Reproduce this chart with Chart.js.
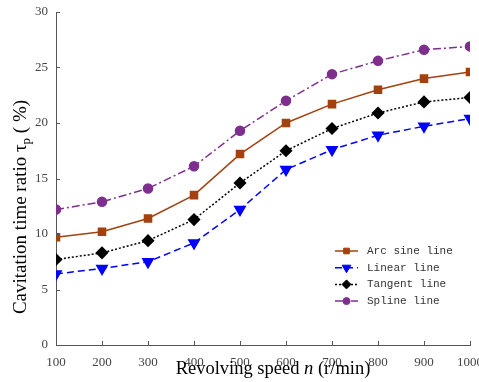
<!DOCTYPE html>
<html lang="en">
<head>
    <script src="https://cdn.jsdelivr.net/npm/chart.js"></script>
    <meta charset="UTF-8">
    <title>Cavitation time ratio</title>
    <style>
        body { margin: 0; background: #fff; }
        #chart { display: block; }
    </style>
</head>
<body>

<canvas id="chart" width="479" height="382"></canvas>
<script>
      // datos
      var speeds = [100, 200, 300, 400, 500, 600, 700, 800, 900, 1000];
      var arcSine = [9.7, 10.2, 11.4, 13.5, 17.2, 20.0, 21.7, 23.0, 24.0, 24.6];
      var linear = [6.4, 6.9, 7.5, 9.2, 12.2, 15.8, 17.6, 18.9, 19.7, 20.4];
      var tangent = [7.7, 8.3, 9.4, 11.3, 14.6, 17.5, 19.5, 20.9, 21.9, 22.3];
      var spline = [12.2, 12.9, 14.1, 16.1, 19.3, 22.0, 24.4, 25.6, 26.6, 26.9];
      var yTicks = [0, 5, 10, 15, 20, 25, 30];

      var seriesNames = ['Arc sine line', 'Linear line', 'Tangent line', 'Spline line'];

      function toPoints(values) {
        return values.map(function(v, i) { return { x: speeds[i], y: v }; });
      }

      var serif = "'Liberation Serif', 'Times New Roman', serif";

      // ticks hacia dentro, títulos y leyenda
      var extras = {
        id: 'extras',
        afterDraw: function(chart) {
          var ctx = chart.ctx;
          var xs = chart.scales.x, ys = chart.scales.y;
          var area = chart.chartArea;
          ctx.save();
          ctx.strokeStyle = '#555';
          ctx.lineWidth = 1;
          ctx.beginPath();
          speeds.forEach(function(s) {
            var px = Math.round(xs.getPixelForValue(s)) + 0.5;
            ctx.moveTo(px, area.bottom);
            ctx.lineTo(px, area.bottom - 4);
          });
          yTicks.forEach(function(t) {
            var py = Math.round(ys.getPixelForValue(t)) + 0.5;
            ctx.moveTo(area.left, py);
            ctx.lineTo(area.left + 4, py);
          });
          ctx.stroke();

          // título eje x
          ctx.fillStyle = '#000';
          ctx.textBaseline = 'alphabetic';
          var f = '18.5px ' + serif, fi = 'italic 18.5px ' + serif;
          ctx.font = f;
          var a = 'Revolving speed ', c = ' (r/min)';
          var wa = ctx.measureText(a).width, wc = ctx.measureText(c).width;
          ctx.font = fi;
          var wb = ctx.measureText('n').width;
          var x0 = 273 - (wa + wb + wc) / 2;
          ctx.font = f; ctx.fillText(a, x0, 374);
          ctx.font = fi; ctx.fillText('n', x0 + wa, 374);
          ctx.font = f; ctx.fillText(c, x0 + wa + wb, 374);

          // título eje y con subíndice
          ctx.save();
          ctx.translate(26, 207);
          ctx.rotate(-Math.PI / 2);
          var fy = '19px ' + serif;
          var t1 = 'Cavitation time ratio \u03c4', t2 = 'p', t3 = ' ( %)';
          ctx.font = fy;
          var w1 = ctx.measureText(t1).width, w3 = ctx.measureText(t3).width;
          ctx.font = '13px ' + serif;
          var w2 = ctx.measureText(t2).width;
          var y0 = -(w1 + w2 + w3) / 2;
          ctx.font = fy; ctx.fillText(t1, y0, 0);
          ctx.font = '13px ' + serif; ctx.fillText(t2, y0 + w1, 4);
          ctx.font = fy; ctx.fillText(t3, y0 + w1 + w2, 0);
          ctx.restore();

          // leyenda
          chart.data.datasets.forEach(function(ds, i) {
            var ly = 251 + i * 16.7;
            ctx.save();
            ctx.strokeStyle = ds.borderColor;
            ctx.fillStyle = ds.backgroundColor;
            ctx.lineWidth = ds.borderWidth;
            ctx.setLineDash(ds.borderDash || []);
            ctx.beginPath();
            ctx.moveTo(335, ly);
            ctx.lineTo(358, ly);
            ctx.stroke();
            ctx.setLineDash([]);
            ctx.lineWidth = 1;
            Chart.helpers.drawPoint(ctx, {
              pointStyle: ds.pointStyle,
              radius: ds.pointRadius - 1,
              rotation: ds.pointRotation || 0,
              borderWidth: 1
            }, 346.5, ly);
            ctx.restore();
            ctx.fillStyle = '#333';
            ctx.font = "11px 'Liberation Mono', 'DejaVu Sans Mono', monospace";
            ctx.textBaseline = 'middle';
            ctx.fillText(ds.label, 367, ly);
          });
          ctx.restore();
        }
      };

      function style(color, dash, point, radius, rot) {
        return {
          borderColor: color,
          backgroundColor: color,
          pointBackgroundColor: color,
          pointBorderColor: color,
          borderWidth: 1.5,
          borderDash: dash,
          pointStyle: point,
          pointRadius: radius,
          pointRotation: rot,
          tension: 0
        };
      }

      var datasets = [
        Object.assign({ label: seriesNames[0], data: toPoints(arcSine) }, style('#A3410F', [], 'rect', 5, 0)),
        Object.assign({ label: seriesNames[1], data: toPoints(linear) }, style('#0000FF', [7, 4], 'triangle', 6, 180)),
        Object.assign({ label: seriesNames[2], data: toPoints(tangent) }, style('#000000', [2, 2], 'rectRot', 5.5, 0)),
        Object.assign({ label: seriesNames[3], data: toPoints(spline) }, style('#7E2F8E', [8, 3, 2, 3], 'circle', 4.5, 0))
      ];

      var ctx = document.getElementById('chart').getContext('2d');
      var chart = new Chart(ctx, {
        type: 'line',
        data: { datasets: datasets },
        options: {
          responsive: false,
          animation: false,
          layout: { padding: { left: 0, right: 9, top: 12, bottom: 0 }, autoPadding: false },
          plugins: { legend: { display: false }, tooltip: { enabled: false } },
          scales: {
            x: {
              type: 'linear',
              min: 100,
              max: 1000,
              afterFit: function(s) { s.height = 37; s.paddingRight = 0; },
              afterBuildTicks: function(s) { s.ticks = speeds.map(function(v) { return { value: v }; }); },
              grid: { display: false },
              border: { display: true, color: '#555', width: 1 },
              ticks: {
                color: '#444', font: { family: serif, size: 13 }, padding: 2, maxRotation: 0, autoSkip: false,
                callback: function(v) { return String(v); }
              }
            },
            y: {
              min: 0,
              max: 30,
              afterFit: function(s) { s.width = 56; },
              afterBuildTicks: function(s) { s.ticks = yTicks.map(function(v) { return { value: v }; }); },
              grid: { display: false },
              border: { display: true, color: '#555', width: 1 },
              ticks: { color: '#444', font: { family: serif, size: 13 }, padding: 0 }
            }
          }
        },
        plugins: [extras]
      });
</script>

</body>
</html>
